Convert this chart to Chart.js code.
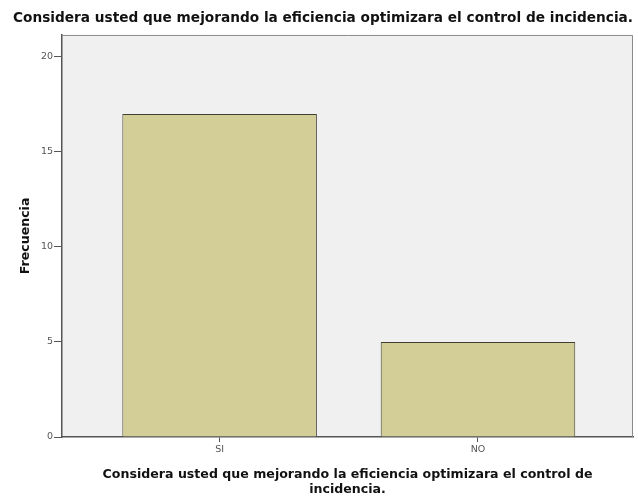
<!DOCTYPE html>
<html>
<head>
<meta charset="utf-8">
<script src="https://cdn.jsdelivr.net/npm/chart.js@4/dist/chart.umd.min.js"></script>
<style>
  html, body { margin: 0; padding: 0; background: #fff; }
  #wrap { width: 638px; height: 497px; }
</style>
</head>
<body>
<div id="wrap"><canvas id="chart" width="638" height="497"></canvas></div>
<script>
// data
const categories = ['SI', 'NO'];
const frecuencia = [17, 5];
const yTicks = [0, 5, 10, 15, 20];

const chartTitle = 'Considera usted que mejorando la eficiencia optimizara el control de incidencia.';
const xTitle = ['Considera usted que mejorando la eficiencia optimizara el control de', 'incidencia.'];
const yTitle = 'Frecuencia';

// plot frame (spss look): grey fill + thin box
const plotFrame = {
  id: 'plotFrame',
  beforeDraw: (chart) => {
    const a = chart.chartArea;
    const ctx = chart.ctx;
    ctx.save();
    ctx.fillStyle = '#f0f0f0';
    ctx.fillRect(a.left, a.top, a.right - a.left, a.bottom - a.top);
    ctx.restore();
  },
  afterDraw: (chart) => {
    const a = chart.chartArea;
    const ctx = chart.ctx;
    ctx.save();
    ctx.strokeStyle = '#8a8a8a';
    ctx.lineWidth = 1;
    ctx.beginPath();
    ctx.moveTo(a.left, a.top + 0.5);
    ctx.lineTo(a.right - 0.5, a.top + 0.5);
    ctx.lineTo(a.right - 0.5, a.bottom);
    ctx.stroke();
    ctx.restore();
  }
};

const tickFont = { family: 'DejaVu Sans', size: 9.5 };
const axisTitleFont = { family: 'DejaVu Sans', size: 12.6, weight: 'bold' };

new Chart(document.getElementById('chart'), {
  type: 'bar',
  data: {
    datasets: [{
      label: yTitle,
      data: frecuencia.map((v, i) => ({ x: i + 1, y: v })),
      backgroundColor: '#d3ce97',
      borderColor: '#3f3f33',
      borderWidth: 1,
      barPercentage: 0.753,
      categoryPercentage: 1
    }]
  },
  options: {
    responsive: false,
    animation: false,
    devicePixelRatio: 1,
    layout: { padding: { left: 13, right: 5, top: 0, bottom: 0 } },
    plugins: {
      legend: { display: false },
      tooltip: { enabled: false },
      title: {
        display: true,
        text: chartTitle,
        color: '#111',
        font: { family: 'DejaVu Sans', size: 13.7, weight: 'bold' },
        padding: { top: 10.5, bottom: 8 }
      }
    },
    scales: {
      x: {
        type: 'linear',
        offset: false,
        min: 0.39,
        max: 2.6,
        afterBuildTicks: (scale) => {
          scale.ticks = categories.map((c, i) => ({ value: i + 1 }));
        },
        afterFit: (scale) => { scale.height = 60; },
        ticks: {
          color: '#555',
          font: tickFont,
          padding: 2,
          callback: (v) => categories[v - 1] || ''
        },
        grid: { offset: false, drawOnChartArea: false, color: '#555', tickLength: 5 },
        border: { color: '#555', width: 1.5 },
        title: {
          display: true,
          text: xTitle,
          color: '#111',
          font: axisTitleFont,
          padding: { top: 6, bottom: 0 }
        }
      },
      y: {
        min: 0,
        max: 21.16,
        afterBuildTicks: (scale) => {
          scale.ticks = yTicks.map((v) => ({ value: v }));
        },
        afterFit: (scale) => { scale.width = 49; },
        ticks: { color: '#555', font: tickFont, padding: 1 },
        grid: { drawOnChartArea: false, color: '#555', tickLength: 8 },
        border: { color: '#555', width: 1.5 },
        title: {
          display: true,
          text: yTitle,
          color: '#111',
          font: axisTitleFont,
          padding: { top: 5 }
        }
      }
    }
  },
  plugins: [plotFrame]
});
</script>
</body>
</html>
